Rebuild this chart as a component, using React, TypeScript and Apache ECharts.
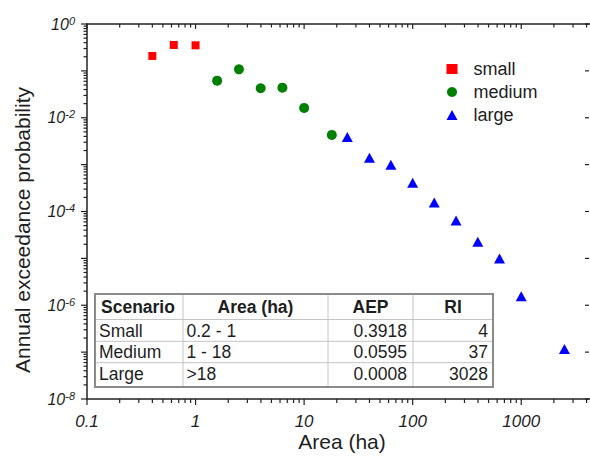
import { useEffect, useRef } from 'react';
import * as echarts from 'echarts';

// ---- data ----
const smallArea = [0.4, 0.63, 1.0];
const smallAEP = [0.208, 0.357, 0.351];
const mediumArea = [1.58, 2.51, 3.98, 6.31, 10, 18];
const mediumAEP = [0.0618, 0.108, 0.0426, 0.0438, 0.0162, 0.0043];
const largeArea = [25, 40, 63, 100, 158, 251, 398, 631, 1000, 2500];
const largeAEP = [0.0039, 0.00141, 0.001, 0.00041, 0.000155, 0.000064, 0.0000225, 0.00001, 0.00000155, 0.000000117];

const seriesNames = ['small', 'medium', 'large'];

const xMin = 0.1;
const xMax = 4300;
const yMin = 1e-8;
const yMax = 1;
const xMajorTicks = [0.1, 1, 10, 100, 1000];
const yMajorTicks = [1e-8, 1e-7, 1e-6, 1e-5, 1e-4, 1e-3, 1e-2, 1e-1, 1];
const minorMultipliers = [2, 3, 4, 5, 6, 7, 8, 9];

const tableHeader = ['Scenario', 'Area (ha)', 'AEP', 'RI'];
const tableScenario = ['Small', 'Medium', 'Large'];
const tableArea = ['0.2 - 1', '1 - 18', '>18'];
const tableAEP = ['0.3918', '0.0595', '0.0008'];
const tableRI = ['4', '37', '3028'];

const FONT = '"Liberation Sans", Arial, Helvetica, sans-serif';
const INK = '#1e1e1e';

function zip(xs: number[], ys: number[]) {
  return xs.map((x, i) => [x, ys[i]]);
}

export default function App() {
  const ref = useRef<HTMLDivElement>(null);

  useEffect(() => {
    if (!ref.current) return;
    const chart = echarts.init(ref.current, null, { renderer: 'svg' });

    // tick marks (kind: 0 x major, 1 x minor, 2 y major, 3 y minor)
    const tickData: number[][] = [];
    xMajorTicks.forEach((v) => {
      tickData.push([v, yMin, 0]);
      minorMultipliers.forEach((m) => {
        const mv = v * m;
        if (mv < xMax) tickData.push([mv, yMin, 1]);
      });
    });
    yMajorTicks.forEach((v) => {
      tickData.push([xMin, v, 2]);
      if (v < yMax) {
        minorMultipliers.forEach((m) => tickData.push([xMin, v * m, 3]));
      }
    });

    const lineEl = (x1: number, y1: number, x2: number, y2: number) => ({
      type: 'line',
      shape: { x1, y1, x2, y2 },
      style: { stroke: '#222', lineWidth: 1.2 },
    });

    const rowTops = [294, 319.5, 341.3, 362.7, 387];
    const colX = [95, 183, 328, 413, 493];
    const rowCenters = [331, 352, 373.5];

    const graphics: any[] = [];
    graphics.push({
      type: 'rect',
      shape: { x: 95, y: 294, width: 398, height: 93 },
      style: { fill: '#fff', stroke: '#8a8a8a', lineWidth: 2 },
      z: 10,
    });
    [rowTops[1], rowTops[2], rowTops[3]].forEach((y) =>
      graphics.push({
        type: 'line',
        shape: { x1: 96, y1: y, x2: 492, y2: y },
        style: { stroke: '#c4c4c4', lineWidth: 1 },
        z: 11,
      })
    );
    [colX[1], colX[2], colX[3]].forEach((x) =>
      graphics.push({
        type: 'line',
        shape: { x1: x, y1: 295, x2: x, y2: 386 },
        style: { stroke: '#c4c4c4', lineWidth: 1 },
        z: 11,
      })
    );
    const txt = (text: string, x: number, y: number, align: string, bold = false) => ({
      type: 'text',
      x,
      y,
      z: 12,
      style: {
        text,
        x: 0,
        y: 0,
        fill: INK,
        font: `${bold ? 'bold ' : ''}17.5px ${FONT}`,
        align,
        verticalAlign: 'middle',
      },
    });
    graphics.push(txt(tableHeader[0], 101, 307, 'left', true));
    graphics.push(txt(tableHeader[1], 255.5, 307, 'center', true));
    graphics.push(txt(tableHeader[2], 370.5, 307, 'center', true));
    graphics.push(txt(tableHeader[3], 453, 307, 'center', true));
    tableScenario.forEach((s, i) => {
      graphics.push(txt(s, 99, rowCenters[i], 'left'));
      graphics.push(txt(tableArea[i], 186.5, rowCenters[i], 'left'));
      graphics.push(txt(tableAEP[i], 407, rowCenters[i], 'right'));
      graphics.push(txt(tableRI[i], 488, rowCenters[i], 'right'));
    });
    // axis titles
    graphics.push({
      type: 'text',
      x: 22,
      y: 230,
      rotation: Math.PI / 2,
      style: {
        text: 'Annual exceedance probability',
        fill: INK,
        font: `21px ${FONT}`,
        align: 'center',
        verticalAlign: 'middle',
      },
    });
    graphics.push({
      type: 'text',
      x: 342,
      y: 441,
      style: {
        text: 'Area (ha)',
        fill: INK,
        font: `21px ${FONT}`,
        align: 'center',
        verticalAlign: 'middle',
      },
    });

    const axisLine = { show: true, lineStyle: { color: '#222', width: 1.5 } };

    chart.setOption({
      animation: false,
      backgroundColor: '#ffffff',
      grid: { left: 87, right: 0, top: 24, bottom: 63, containLabel: false },
      legend: {
        orient: 'vertical',
        left: 441.5,
        top: 55,
        itemWidth: 11,
        itemHeight: 10,
        itemGap: 5,
        selectedMode: false,
        data: seriesNames,
        textStyle: { fontSize: 18, color: INK, fontFamily: FONT, padding: [0, 0, 0, 11] },
      },
      xAxis: [
        {
          type: 'log',
          logBase: 10,
          min: xMin,
          max: xMax,
          position: 'bottom',
          axisLine,
          axisTick: { show: false },
          splitLine: { show: false },
          axisLabel: {
            margin: 14,
            fontSize: 17,
            fontStyle: 'italic',
            fontFamily: FONT,
            color: INK,
            showMaxLabel: false,
            formatter: (v: number) => {
              const e = Math.log10(v);
              if (Math.abs(e - Math.round(e)) > 1e-6) return '';
              const r = Math.round(e);
              return r < 0 ? Math.pow(10, r).toFixed(-r) : String(Math.round(Math.pow(10, r)));
            },
          },
        },
        {
          type: 'log',
          logBase: 10,
          min: xMin,
          max: xMax,
          position: 'top',
          axisLine,
          axisTick: { show: false },
          axisLabel: { show: false },
          splitLine: { show: false },
        },
      ],
      yAxis: [
        {
          type: 'log',
          logBase: 10,
          min: yMin,
          max: yMax,
          position: 'left',
          axisLine,
          axisTick: { show: false },
          splitLine: { show: false },
          axisLabel: {
            margin: 12,
            fontFamily: FONT,
            color: INK,
            formatter: (v: number) => {
              const e = Math.round(Math.log10(v));
              if (e % 2 !== 0) return '';
              return `{b|10}{e|${e}}`;
            },
            rich: {
              b: { fontSize: 16, fontStyle: 'italic', fontFamily: FONT, color: INK, lineHeight: 18 },
              e: { fontSize: 11, fontStyle: 'italic', fontFamily: FONT, color: INK, verticalAlign: 'top', lineHeight: 11 },
            },
          },
        },
        {
          type: 'log',
          logBase: 10,
          min: yMin,
          max: yMax,
          position: 'right',
          axisLine: { show: false },
          axisTick: { show: false },
          axisLabel: { show: false },
          splitLine: { show: false },
        },
      ],
      graphic: graphics,
      series: [
        {
          name: 'small',
          type: 'scatter',
          symbol: 'rect',
          symbolSize: 8,
          itemStyle: { color: '#ff0000', opacity: 1 },
          data: zip(smallArea, smallAEP),
          z: 5,
        },
        {
          name: 'medium',
          type: 'scatter',
          symbol: 'circle',
          symbolSize: 10,
          itemStyle: { color: '#008000', opacity: 1 },
          data: zip(mediumArea, mediumAEP),
          z: 5,
        },
        {
          name: 'large',
          type: 'scatter',
          symbol: 'triangle',
          symbolSize: [11, 10],
          itemStyle: { color: '#0000ff', opacity: 1 },
          data: zip(largeArea, largeAEP),
          z: 5,
        },
        {
          name: 'ticks',
          type: 'custom',
          silent: true,
          clip: false,
          z: 6,
          data: tickData,
          renderItem: (_params: any, api: any) => {
            const kind = api.value(2);
            const v0 = api.value(0);
            const v1 = api.value(1);
            if (kind === 0 || kind === 1) {
              const pb = api.coord([v0, yMin]);
              const pt = api.coord([v0, yMax]);
              const lb = kind === 0 ? 6 : 4;
              const lt = kind === 0 ? 5 : 3.5;
              return {
                type: 'group',
                children: [lineEl(pb[0], pb[1], pb[0], pb[1] + lb), lineEl(pt[0], pt[1], pt[0], pt[1] + lt)],
              };
            }
            const pl = api.coord([xMin, v1]);
            const pr = api.coord([xMax, v1]);
            if (kind === 2) {
              return {
                type: 'group',
                children: [lineEl(pl[0] - 6, pl[1], pl[0], pl[1]), lineEl(pr[0] - 5, pr[1], pr[0] - 1, pr[1])],
              };
            }
            return lineEl(pl[0] - 3.5, pl[1], pl[0], pl[1]);
          },
        },
      ],
    });

    return () => chart.dispose();
  }, []);

  return (
    <div
      ref={ref}
      style={{ position: 'fixed', left: 0, top: 0, width: 590, height: 462, background: '#fff' }}
    />
  );
}
